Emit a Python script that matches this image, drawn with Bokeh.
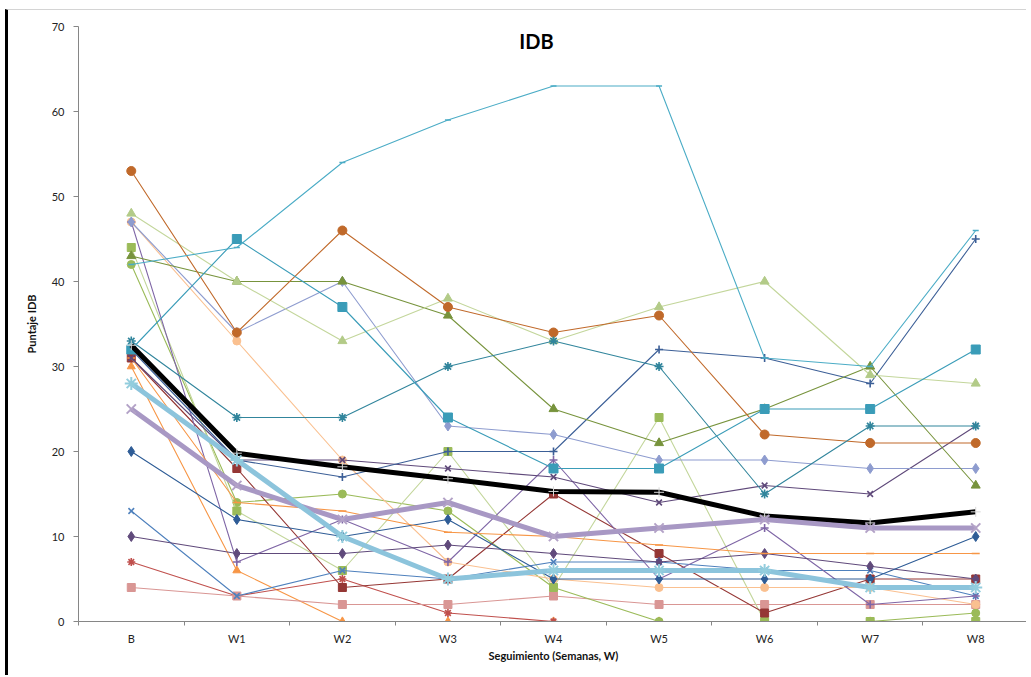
from bokeh.plotting import figure
from bokeh.models import FixedTicker, Label, Range1d
from bokeh.embed import file_html
from bokeh.resources import INLINE

# ---- data ----
semanas = ["B", "W1", "W2", "W3", "W4", "W5", "W6", "W7", "W8"]

cian_guion    = [42, 44, 54, 59, 63, 63, 31, 30, 46]
turquesa_cuad = [32, 45, 37, 24, 18, 18, 25, 25, 32]
turquesa_ast  = [33, 24, 24, 30, 33, 30, 15, 23, 23]
cafe_circ     = [53, 34, 46, 37, 34, 36, 22, 21, 21]
verde_cl_tri  = [48, 40, 33, 38, 33, 37, 40, 29, 28]
verde_os_tri  = [43, 40, 40, 36, 25, 21, 25, 30, 16]
lavanda_diam  = [47, 34, 40, 23, 22, 19, 19, 18, 18]
azul_cruz     = [32, 19, 17, 20, 20, 32, 31, 28, 45]
morado_x      = [31, 19, 19, 18, 17, 14, 16, 15, 23]
salmon_circ   = [47, 33, 19, 7, 5, 4, 4, 4, 2]
azul_diam     = [20, 12, 10, 12, 5, 5, 5, 5, 10]
morado_diam   = [10, 8, 8, 9, 8, 7, 8, 6.5, 5]
rojo_ast      = [7, 3, 5, 1, 0, 0, 0, 0, 0]
rosa_cuad     = [4, 3, 2, 2, 3, 2, 2, 2, 2]
naranja_tri   = [30, 6, 0, 0, 0, 0, 0, 0, 0]
oliva_cuad    = [44, 13, 6, 20, 4, 24, 0, 0, 0]
verde_circ    = [42, 14, 15, 13, 4, 0, 0, 0, 1]
granate_cuad  = [31, 18, 4, 5, 15, 8, 1, 5, 5]
naranja_guion = [31, 14, 13, 10.5, 10, 9, 8, 8, 8]
azul_x        = [13, 3, 6, 5, 7, 7, 6, 6, 3]
morado_cruz   = [47, 7, 12, 7, 19, 5, 11, 2, 3]

serie_negra   = [32.5, 19.8, 18.2, 16.8, 15.3, 15.2, 12.4, 11.6, 12.9]
serie_morada  = [25, 16, 12, 14, 10, 11, 12, 11, 11]
serie_celeste = [28, 19, 10, 5, 6, 6, 6, 4, 4]

FONT = "Lato"
n = len(semanas)
xs = list(range(n))

p = figure(width=1021, height=666,
           x_range=Range1d(-0.5, n - 0.5), y_range=Range1d(0, 70),
           output_backend="svg", toolbar_location=None,
           min_border_left=70, min_border_right=1,
           min_border_top=16, min_border_bottom=55)
p.styles = {"margin-left": "5px", "margin-top": "9px",
            "border-left": "3px solid #000000",
            "border-top": "1px solid #d4d4d4"}
p.xgrid.visible = False
p.ygrid.visible = False
p.outline_line_color = None
p.background_fill_color = "white"
p.border_fill_color = "white"

xa = p.xaxis[0]
xa.ticker = FixedTicker(ticks=xs, minor_ticks=[i - 0.5 for i in range(n + 1)])
xa.major_label_overrides = {i: s for i, s in enumerate(semanas)}
xa.major_tick_line_color = None
xa.major_tick_out = 0
xa.major_tick_in = 0
xa.minor_tick_out = 4
xa.minor_tick_in = 0
xa.minor_tick_line_color = "#868686"
xa.axis_line_color = "#868686"
xa.major_label_standoff = 6
xa.axis_label = "Seguimiento (Semanas, W)"
xa.axis_label_standoff = 1

ya = p.yaxis[0]
ya.ticker = FixedTicker(ticks=list(range(0, 71, 10)))
ya.major_tick_out = 5
ya.major_tick_in = 0
ya.minor_tick_out = 0
ya.minor_tick_in = 0
ya.major_tick_line_color = "#868686"
ya.axis_line_color = "#868686"
ya.major_label_standoff = 9
ya.axis_label = "Puntaje IDB"
ya.axis_label_standoff = 11

for ax in (xa, ya):
    ax.major_label_text_font = FONT
    ax.major_label_text_font_size = "11px"
    ax.major_label_text_color = "#222222"
    ax.axis_label_text_font = FONT
    ax.axis_label_text_font_size = "11px"
    ax.axis_label_text_font_style = "bold"
    ax.axis_label_text_color = "#111111"

estilos = [
    (naranja_tri,   "#F79646", "#F79646", "triangle", 8),
    (rojo_ast,      "#C0504D", "#C0504D", "asterisk", 8),
    (rosa_cuad,     "#D99694", "#D99694", "square", 8),
    (verde_circ,    "#9BBB59", "#9BBB59", "circle", 8),
    (oliva_cuad,    "#C3D69B", "#9BBB59", "square", 8),
    (granate_cuad,  "#953735", "#953735", "square", 8),
    (salmon_circ,   "#FAC090", "#FAC090", "circle", 8),
    (azul_x,        "#4F81BD", "#4F81BD", "x", 8),
    (morado_cruz,   "#7F66A6", "#7F66A6", "cross", 8),
    (morado_diam,   "#604A7B", "#604A7B", "diamond", 10),
    (azul_diam,     "#2E5C96", "#2E5C96", "diamond", 10),
    (naranja_guion, "#F79646", "#F79646", "dash", 8),
    (morado_x,      "#5F497A", "#5F497A", "x", 8),
    (azul_cruz,     "#3C5F97", "#3C5F97", "cross", 8),
    (lavanda_diam,  "#8E9CCF", "#8E9CCF", "diamond", 10),
    (verde_os_tri,  "#77933C", "#77933C", "triangle", 9),
    (verde_cl_tri,  "#C3D69B", "#B3CB88", "triangle", 9),
    (cafe_circ,     "#C0692A", "#C0692A", "circle", 9),
    (turquesa_ast,  "#31859C", "#31859C", "asterisk", 9),
    (turquesa_cuad, "#3A9CB8", "#3A9CB8", "square", 9),
    (cian_guion,    "#4BACC6", "#4BACC6", "dash", 6),
]

for vals, lc, mc, mk, sz in estilos:
    p.line(xs, vals, line_color=lc, line_width=1.1)
    if mk in ("x", "asterisk", "cross", "dash"):
        p.scatter(xs, vals, marker=mk, size=sz, line_color=mc, line_width=1.6)
    else:
        p.scatter(xs, vals, marker=mk, size=sz, fill_color=mc, line_color=mc)

# summary lines
p.line(xs, serie_negra, line_color="#000000", line_width=5)
p.scatter(xs, serie_negra, marker="cross", size=10, line_color="#D8D8D8", line_width=1)
p.line(xs, serie_morada, line_color="#A898C4", line_width=5)
p.scatter(xs, serie_morada, marker="x", size=13, line_color="#B3A2C7", line_width=2)
p.line(xs, serie_celeste, line_color="#8CC4DC", line_width=5)
p.scatter(xs, serie_celeste, marker="asterisk", size=13, line_color="#93CDDD", line_width=2)

titulo = Label(x=(n - 1) / 2, y=p.y_range.end, x_offset=-17, y_offset=-14,
               text="IDB", text_font=FONT, text_font_size="20px",
               text_font_style="bold", text_align="center", text_baseline="middle",
               text_color="#000000")
p.add_layout(titulo)

open("out.html", "w").write(file_html(p, INLINE))
